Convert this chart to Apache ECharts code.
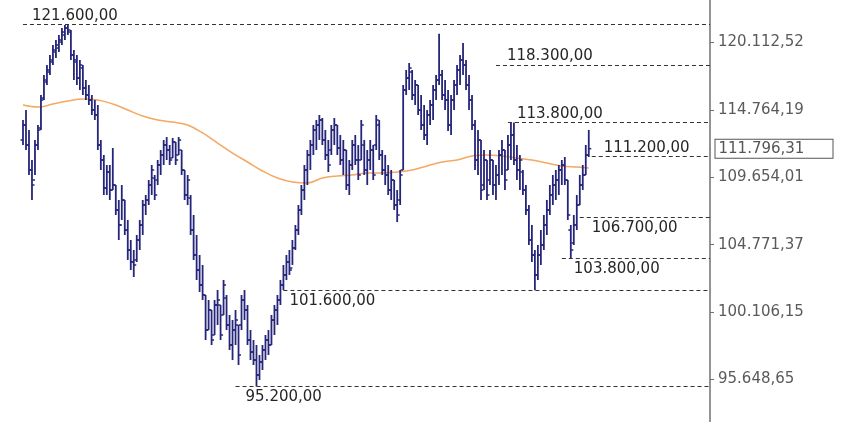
<!DOCTYPE html>
<html>
<head>
<meta charset="utf-8">
<script src="https://cdn.jsdelivr.net/npm/echarts@6/dist/echarts.min.js"></script>
<style>
html,body{margin:0;padding:0;background:#fff;}
#chart{width:859px;height:422px;}
</style>
</head>
<body>
<div id="chart"></div>
<script>
// OHLC bars: [open, high, low, close]
var ohlc = [
[112454,113984,112075,113600],[113600,114757,111697,112075],[112075,113216,109826,110198],[110198,110945,107986,109086],
[109455,112454,109826,112075],[112075,113600,111697,113216],[113370,115926,113216,115535],[115690,117503,115535,117107],
[116950,118300,116712,117901],[117740,119102,117503,118700],[118540,119909,118300,119505],[119345,120315,118860,119909],
[119665,120722,119345,120315],[120150,121295,119909,120965],[120722,121540,120315,121295],[121295,121600,120722,121131],
[120965,121131,118700,119102],[119102,119505,117107,118700],[118540,119102,116712,117265],[117265,118700,116318,118300],
[118060,118300,115926,116475],[116475,117107,115535,115926],[115926,116712,115145,115535],[115535,115926,114370,114757],
[114757,115535,113984,114370],[114370,115145,111697,112075],[112075,112454,110198,110945],[110945,111320,108352,108865],
[108865,110571,108352,110050],[110050,110571,107986,108718],[108718,111850,108718,109086],[109086,109086,106897,107259],
[107259,107986,105107,106177],[106177,109086,106537,107986],[107986,107986,105462,105819],[105819,106537,103696,104399],
[104399,105107,102998,103555],[103555,104399,102510,103346],[103696,105462,103555,105107],[105107,106537,104399,106177],
[106177,107986,105462,107622],[107622,108352,106897,107986],[107986,109455,107622,109086],[109086,110571,108352,110198],
[109600,109826,107986,108352],[109455,110945,109086,110571],[110571,111697,109826,111320],[111320,112454,110571,112075],
[112075,112680,110945,111697],[111697,112075,110571,110945],[111095,112610,111095,112300],[112300,112300,110571,110945],
[111320,112680,111320,112454],[111697,111697,109826,110198],[110198,110198,107986,108352],[108352,109826,107622,109455],
[108130,108352,105462,105819],[105819,106897,103696,104047],[104047,105462,102304,102998],[102998,104047,101478,101959],
[101959,103346,100931,101272],[101272,101272,98240,98906],[98906,100931,98906,100251],[100251,100251,97909,98240],
[98572,100931,98572,100590],[100590,101615,99240,100931],[100590,100590,98240,98572],[99913,102304,99913,101959],
[101065,101272,98906,99240],[99240,99913,97578,97909],[97909,99576,96921,98906],[98906,100251,97909,99576],
[99240,99240,96594,97249],[99240,101272,98906,100931],[100931,101615,99576,100251],[100251,100590,97909,98240],
[98240,98906,96921,97446],[97446,98240,96594,96921],[96921,97909,95200,95944],[95944,97249,95620,96790],
[96790,97909,96268,97578],[97578,98572,96921,98240],[98240,98906,97249,97909],[97909,99913,97909,99576],
[99576,100590,98572,100251],[100251,101272,99240,100931],[100931,102304,100590,101959],[101959,103346,101615,102650],
[102650,104047,102304,103555],[103555,104399,102650,102998],[103135,105107,103346,104540],[104540,106177,104399,105819],
[105819,107622,105462,107259],[107259,109086,106897,108718],[108718,110571,107986,110198],[110198,111697,109086,111320],
[111320,112454,110198,112075],[112075,113600,111320,113216],[113216,113984,111697,113600],[113600,114370,112454,113984],
[113984,114140,112075,112454],[112454,113216,110945,111320],[111320,112454,110050,110571],[111697,113600,111320,113216],
[113216,114140,112075,113600],[113600,113600,111320,111850],[111850,112835,110571,110945],[110945,112454,109826,111697],
[111697,111697,108718,109086],[109086,110945,108352,110571],[110571,112454,110198,112075],[112075,112835,110571,110945],
[110945,112075,109455,109826],[110945,113984,110945,113600],[112075,112454,109826,110198],[110198,111697,109086,110945],
[110945,112454,110198,111697],[111697,112075,109455,109826],[112075,114370,111697,113984],[113600,113984,110945,111320],
[111320,111697,109826,110198],[110198,111320,109086,109826],[109826,110571,108352,108718],[108718,110198,107986,109455],
[109455,109455,107259,107622],[107622,108718,106390,106897],[107986,110198,107622,109826],[110198,116712,110198,116318],
[116318,117901,115926,117265],[117265,118460,116318,118060],[117740,117901,115535,115926],[115926,117107,115145,116712],
[116712,116712,114370,114757],[114757,115926,113216,113600],[113600,115145,112454,112835],[112835,114757,112075,114370],
[114370,115535,113600,115145],[115145,116712,113984,116318],[116318,117503,115535,117107],[117107,120822,116712,117503],
[117503,117901,115535,115926],[115926,117107,114757,115535],[115535,116318,113140,113600],[113600,115926,112835,115535],
[115535,117107,114757,116712],[116712,118300,115926,117901],[117901,119102,116712,118700],[118700,120070,117503,118300],
[118300,118700,116318,116712],[116712,117503,114757,115535],[115535,115926,113216,113600],[113600,113984,110198,110945],
[110945,113216,109826,112454],[112454,112454,107986,108718],[109086,111697,108718,110945],[110945,110945,107986,108352],
[109455,111697,109086,110945],[110945,110945,108352,109086],[109086,110571,107986,109826],[109826,111697,109086,111320],
[111320,112454,109826,111697],[111697,111697,108718,109455],[110198,112835,110198,112075],[112075,113830,110945,112835],
[112835,113800,110571,110945],[110945,112075,109455,110198],[110198,111320,108718,110945],[110050,110198,108352,108718],
[108718,109086,106897,107259],[107259,107622,104752,105107],[105107,106177,103555,104047],[104047,104399,101600,102650],
[102650,104752,102304,104047],[104047,105819,103346,104752],[104752,106897,104399,106177],[106177,107986,105462,107259],
[107259,109086,106897,108352],[108352,109826,107622,109086],[109086,110198,107986,109455],[109455,110571,108352,110198],
[110198,110945,109086,110571],[110571,111170,109086,109455],[109455,109455,106537,106897],[105819,106177,103800,104399],
[104895,106897,104752,106177],[106177,108352,105819,107622],[107622,109826,107622,109086],[109086,110571,108718,109826],
[109826,112075,109826,111320],[111320,113216,111170,111796.31]
];
// moving average, read every 5 bars: [barIndex, value]
var maPoints = [
[0,115145],[5,114990],[10,115220],[15,115455],[20,115610],[25,115535],[30,115220],[35,114757],[40,114290],
[45,113984],[50,113830],[55,113600],[60,112990],[65,112225],[70,111470],[75,110795],[80,110125],[85,109600],
[90,109310],[95,109235],[100,109600],[105,109750],[110,109826],[115,109975],[120,109975],[125,110050],[130,110198],
[135,110500],[140,110795],[145,110945],[150,111245],[155,111320],[160,111245],[165,111095],[170,110945],[175,110720],
[180,110500],[185,110420],[189,110350]
];
var yTicks = [95648.65, 100106.15, 104771.37, 109654.01, 114764.19, 120112.52];
var levelValues = [121600, 118300, 113800, 111200, 106700, 103800, 101600, 95200];
var levelStart  = [0, 158, 162, 190, 186, 180, 87, 71];
var levelSide   = ['top','top','top','top','bottom','bottom','bottom','bottom'];
var levelShift  = [9, 11, 9, 12, 12, 12, 6, 10];
var lastPrice = 111796.31;

function fmt(v){
  var s = Number(v).toFixed(2).split('.');
  return s[0].replace(/\B(?=(\d{3})+(?!\d))/g, '.') + ',' + s[1];
}

var BAR = '#25257b';
var FONT = 'DejaVu Sans';
var slotMax = 229.5;

var mlData = levelValues.map(function(v, k){
  var top = levelSide[k] === 'top';
  return [
    {coord:[levelStart[k], v],
     label:{show:true, position: top ? 'insideStartTop' : 'insideStartBottom',
            distance:[levelShift[k], top ? 1 : 3], formatter: fmt(v)}},
    {coord:[slotMax, v]}
  ];
});

var chart = echarts.init(document.getElementById('chart'), null, {renderer:'canvas'});
chart.setOption({
  animation:false,
  backgroundColor:'#fff',
  grid:{left:21.5, right:149, top:0, bottom:0, containLabel:false},
  xAxis:{type:'value', min:-0.5, max:slotMax, show:false},
  yAxis:{
    type:'log', position:'right', min:92945, max:123611,
    axisLine:{show:true, onZero:false, lineStyle:{color:'#707070', width:1.5}},
    axisTick:{show:true, length:4, customValues:yTicks, lineStyle:{color:'#707070'}},
    axisLabel:{show:true, customValues:yTicks, margin:8, color:'#5a5a5a', fontSize:15, fontFamily:FONT,
               formatter:function(v){return fmt(v);}},
    splitLine:{show:false}
  },
  series:[
    {
      type:'line', data:maPoints, smooth:0.4, symbol:'none', z:2, clip:false,
      lineStyle:{color:'#f5a862', width:1.5},
      markLine:{
        silent:true, symbol:['none','none'], animation:false,
        lineStyle:{type:[4,3], color:'#333', width:1},
        label:{color:'#262626', fontSize:15, fontFamily:FONT},
        data: mlData
      },
      markPoint:{
        silent:true, animation:false, symbol:'rect', symbolSize:1,
        itemStyle:{color:'#707070'},
        label:{show:true, position:'right', distance:5, formatter: fmt(lastPrice),
               color:'#555', fontSize:15, fontFamily:FONT,
               borderColor:'#555', borderWidth:1, backgroundColor:'#fff',
               padding:[2,3,1,3], width:111, align:'left'},
        data:[{coord:[slotMax, lastPrice]}]
      }
    },
    {
      type:'custom', z:3,
      data: ohlc.map(function(d,i){return [i, d[0], d[1], d[2], d[3]];}),
      encode:{x:0, y:[1,2,3,4]},
      renderItem:function(params, api){
        var x = api.value(0);
        var o = api.coord([x, api.value(1)]);
        var h = api.coord([x, api.value(2)]);
        var l = api.coord([x, api.value(3)]);
        var c = api.coord([x, api.value(4)]);
        return {type:'group', children:[
          {type:'line', shape:{x1:h[0], y1:h[1], x2:l[0], y2:l[1]}, style:{stroke:BAR, lineWidth:1.8}},
          {type:'line', shape:{x1:o[0]-2.5, y1:o[1], x2:o[0], y2:o[1]}, style:{stroke:BAR, lineWidth:1.5}},
          {type:'line', shape:{x1:c[0], y1:c[1], x2:c[0]+2.5, y2:c[1]}, style:{stroke:BAR, lineWidth:1.5}}
        ]};
      }
    }
  ]
});
</script>
</body>
</html>
